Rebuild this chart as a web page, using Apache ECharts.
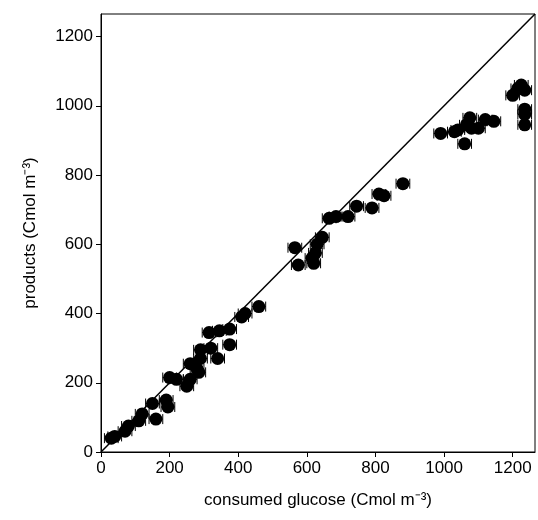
<!DOCTYPE html>
<html>
<head>
<meta charset="utf-8">
<script src="https://cdn.jsdelivr.net/npm/echarts@6/dist/echarts.min.js"></script>
<style>html,body{margin:0;padding:0;background:#fff}#chart{width:538px;height:520px}</style>
</head>
<body>
<div id="chart"></div>
<script>
var glucose = [30,40,70,80,110,120,150,160,190,195,200,220,250,260,260,280,285,290,290,315,320,340,345,375,375,410,420,460,565,575,615,620,625,630,645,665,685,720,745,790,810,825,880,990,1030,1040,1060,1065,1075,1080,1100,1120,1145,1200,1215,1225,1235,1235,1235,1235];
var products = [40,45,60,75,90,110,140,95,150,130,215,210,190,210,255,240,230,270,295,345,300,270,350,355,310,390,400,420,590,540,560,545,575,600,620,675,680,680,710,705,745,740,775,920,925,930,890,945,965,935,935,960,955,1030,1050,1060,1045,990,975,945];
var xErr = 20, yErr = 12;
var axisMax = 1265;

var pts = glucose.map(function (g, i) { return [g, products[i]]; });

var chart = echarts.init(document.getElementById('chart'));
var axisCommon = {
	min: 0, max: axisMax, interval: 200,
	axisLine: {show: true, lineStyle: {color: '#000', width: 1}},
	axisTick: {show: true, length: 5, lineStyle: {color: '#000'}},
	axisLabel: {color: '#000', fontSize: 17, fontFamily: 'Liberation Sans', showMaxLabel: false,
		formatter: function (v) { return String(v); }},
	splitLine: {show: false},
	nameTextStyle: {color: '#000', fontSize: 17, fontFamily: 'Liberation Sans'},
	nameLocation: 'middle'
};
chart.setOption({
	animation: false,
	grid: {left: 101, right: 3, top: 14, bottom: 68, show: true, borderColor: '#000', borderWidth: 1},
	xAxis: Object.assign({}, axisCommon, {type: 'value', name: 'consumed glucose (Cmol m⁻³)', nameGap: 40}),
	yAxis: Object.assign({}, axisCommon, {type: 'value', name: 'products (Cmol m⁻³)', nameGap: 62}),
	series: [
		{
			type: 'line', data: [[0, 0], [axisMax, axisMax]], symbol: 'none',
			lineStyle: {color: '#000', width: 1.5}, z: 1
		},
		{
			type: 'custom', data: pts, z: 2,
			renderItem: function (params, api) {
				var x = api.value(0), y = api.value(1);
				var l = api.coord([x - xErr, y]), r = api.coord([x + xErr, y]);
				var t = api.coord([x, y + yErr]), b = api.coord([x, y - yErr]);
				var st = {stroke: '#000', lineWidth: 1};
				return {type: 'group', children: [
					{type: 'line', shape: {x1: l[0], y1: l[1], x2: r[0], y2: r[1]}, style: st},
					{type: 'line', shape: {x1: l[0], y1: l[1] - 5, x2: l[0], y2: l[1] + 5}, style: st},
					{type: 'line', shape: {x1: r[0], y1: r[1] - 5, x2: r[0], y2: r[1] + 5}, style: st},
					{type: 'line', shape: {x1: t[0], y1: t[1], x2: b[0], y2: b[1]}, style: st},
					{type: 'line', shape: {x1: t[0] - 4, y1: t[1], x2: t[0] + 4, y2: t[1]}, style: st},
					{type: 'line', shape: {x1: b[0] - 4, y1: b[1], x2: b[0] + 4, y2: b[1]}, style: st}
				]};
			}
		},
		{
			type: 'scatter', data: pts, symbol: 'circle', symbolSize: 13, z: 3,
			itemStyle: {color: '#000', opacity: 1}
		}
	]
});
</script>
</body>
</html>
